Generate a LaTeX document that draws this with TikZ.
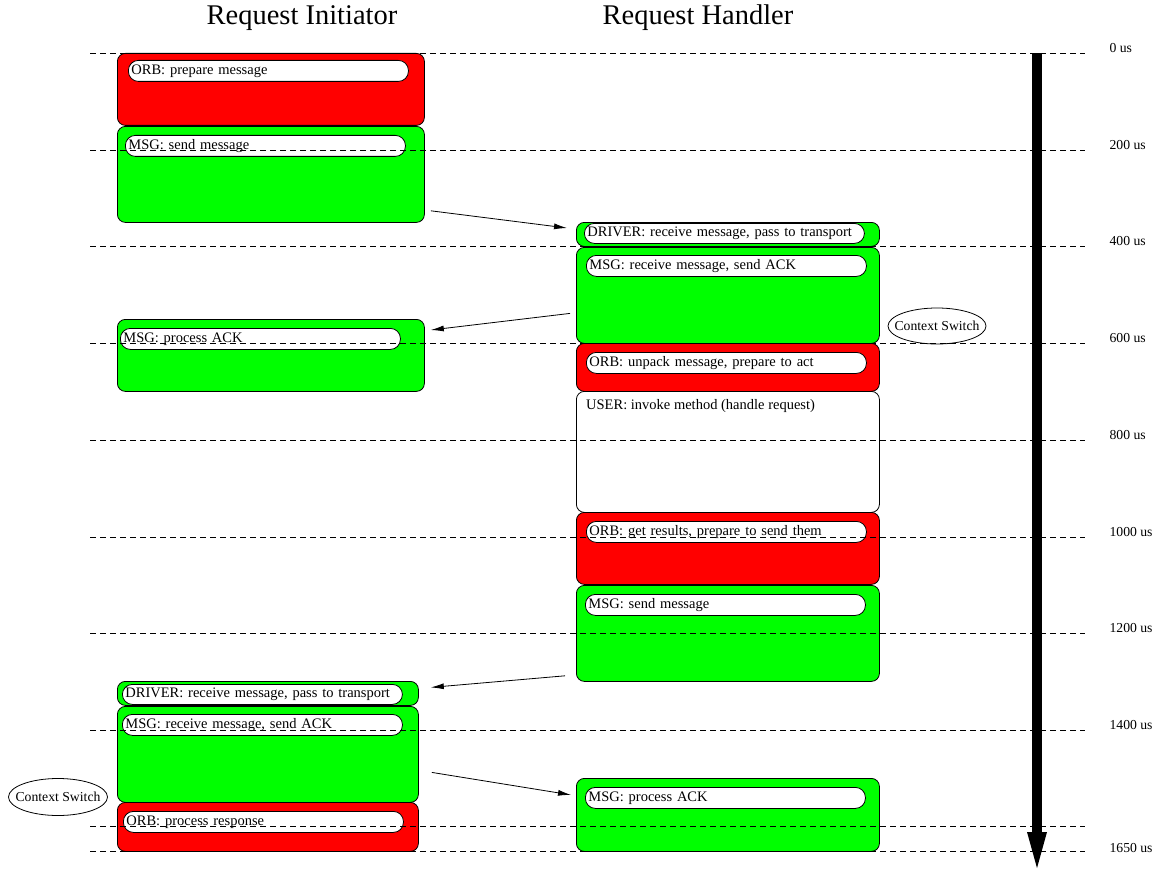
\documentclass[tikz,border=0pt]{standalone}
\usepackage{fontspec}
\setmainfont{Liberation Serif}
\usetikzlibrary{arrows.meta,positioning,shapes.geometric}
\definecolor{orbred}{RGB}{255,0,0}
\definecolor{msggreen}{RGB}{0,255,0}

\begin{document}
\begin{tikzpicture}[
  x=1pt,y=-1pt,
  phase/.style={draw,rounded corners=8pt,anchor=north west,inner sep=0pt,line width=0.8pt},
  initbox/.style={phase,minimum width=307pt},
  initnarrow/.style={phase,minimum width=301pt},
  handbox/.style={phase,minimum width=303pt},
  pill/.style={draw,fill=white,rounded corners=10pt,anchor=north west,minimum height=21pt,
    inner xsep=3pt,inner ysep=0pt,text width=274pt,align=left,line width=0.8pt,
    font=\fontsize{14.5}{16}\selectfont},
  switch/.style={draw,ellipse,inner xsep=-8pt,inner ysep=0pt,line width=0.8pt,
    font=\fontsize{13.7}{15}\selectfont},
  tick/.style={anchor=west,font=\fontsize{13.7}{15}\selectfont},
  heading/.style={font=\fontsize{28.5}{30}\selectfont},
  msgarrow/.style={-{Latex[length=13pt,width=6pt]},line width=0.8pt},
  grid line/.style={dash pattern=on 6pt off 4pt,line width=0.8pt}
]
  \useasboundingbox (0,0) rectangle (1158,869);

  % Headings
  \node[heading] (init) at (302,18) {Request Initiator};
  \node[heading] (hand) at (698,18) {Request Handler};

  % Request initiator
  \node[initbox,fill=orbred,minimum height=72pt] (ri1) at (117,53) {};
  \node[initbox,fill=msggreen,minimum height=96pt] (ri2) at (117,126) {};
  \node[initbox,fill=msggreen,minimum height=72pt] (ri3) at (117,319) {};
  \node[initnarrow,fill=msggreen,minimum height=24pt] (ri4) at (117,681) {};
  \node[initnarrow,fill=msggreen,minimum height=96pt] (ri5) at (117,706) {};
  \node[initnarrow,fill=orbred,minimum height=49pt] (ri6) at (117,802) {};
  \node[pill] (ri1l) at ([shift={(11,7)}]ri1.north west) {ORB: prepare message};
  \node[pill] (ri2l) at ([shift={(8,9)}]ri2.north west) {MSG: send message};
  \node[pill] (ri3l) at ([shift={(3,9)}]ri3.north west) {MSG: process ACK};
  \node[pill,minimum height=20pt] (ri4l) at ([shift={(5,3)}]ri4.north west) {DRIVER: receive message, pass to transport};
  \node[pill] (ri5l) at ([shift={(5,8)}]ri5.north west) {MSG: receive message, send ACK};
  \node[pill] (ri6l) at ([shift={(6,9)}]ri6.north west) {ORB: process response};

  % Request handler
  \node[handbox,fill=msggreen,minimum height=24pt] (rh1) at (576,222) {};
  \node[handbox,fill=msggreen,minimum height=96pt] (rh2) at (576,247) {};
  \node[handbox,fill=orbred,minimum height=48pt] (rh3) at (576,343) {};
  \node[handbox,fill=white,minimum height=121pt] (rh4) at (576,391) {};
  \node[handbox,fill=orbred,minimum height=72pt] (rh5) at (576,512) {};
  \node[handbox,fill=msggreen,minimum height=96pt] (rh6) at (576,585) {};
  \node[handbox,fill=msggreen,minimum height=73pt] (rh7) at (576,778) {};
  \node[pill,minimum height=20pt] (rh1l) at ([shift={(8,1)}]rh1.north west) {DRIVER: receive message, pass to transport};
  \node[pill] (rh2l) at ([shift={(10,8)}]rh2.north west) {MSG: receive message, send ACK};
  \node[pill] (rh3l) at ([shift={(10,9)}]rh3.north west) {ORB: unpack message, prepare to act};
  \node[anchor=north west,inner sep=0pt,font=\fontsize{14.5}{16}\selectfont] (rh4l)
    at ([shift={(10,8)}]rh4.north west) {USER: invoke method (handle request)};
  \node[pill] (rh5l) at ([shift={(10,9)}]rh5.north west) {ORB: get results, prepare to send them};
  \node[pill] (rh6l) at ([shift={(9,9)}]rh6.north west) {MSG: send message};
  \node[pill] (rh7l) at ([shift={(9,9)}]rh7.north west) {MSG: process ACK};

  % Context switches
  \node[switch,minimum width=98pt,minimum height=36pt] (cs1) at (937,326) {Context Switch};
  \node[switch,minimum width=99pt,minimum height=37pt] (cs2) at (58,797) {Context Switch};

  % Time grid
  \foreach \t/\yy in {0/53,200/150,400/246,600/343,800/440,1000/537,1200/633,1400/730}{
    \draw[grid line] (90,\yy) -- (1085,\yy);
    \node[tick] (t\t) at (1106,\yy-5) {\t\ us};
  }
  \draw[grid line] (90,826) -- (1085,826);
  \draw[grid line] (90,851) -- (1085,851);
  \node[tick] (t1650) at (1106,848) {1650 us};

  % Messages
  \draw[msgarrow] ([shift={(6,-12)}]ri2.south east) -- ([shift={(-9,6)}]rh1.north west);
  \draw[msgarrow] ([shift={(-6,18)}]rh2.west) -- ([shift={(6,11)}]ri3.north east);
  \draw[msgarrow] ([shift={(-11,-6)}]rh6.south west) -- ([shift={(12,-6)}]ri4.east);
  \draw[msgarrow] ([shift={(13,18)}]ri5.east) -- ([shift={(-5,-20)}]rh7.west);

  % Time axis
  \coordinate (tstart) at (1037,53);
  \coordinate (tend) at (1037,868);
  \draw[line width=10pt,-{Triangle[length=36pt,width=20pt,line width=0pt]}] (tstart) -- (tend);
\end{tikzpicture}
\end{document}
